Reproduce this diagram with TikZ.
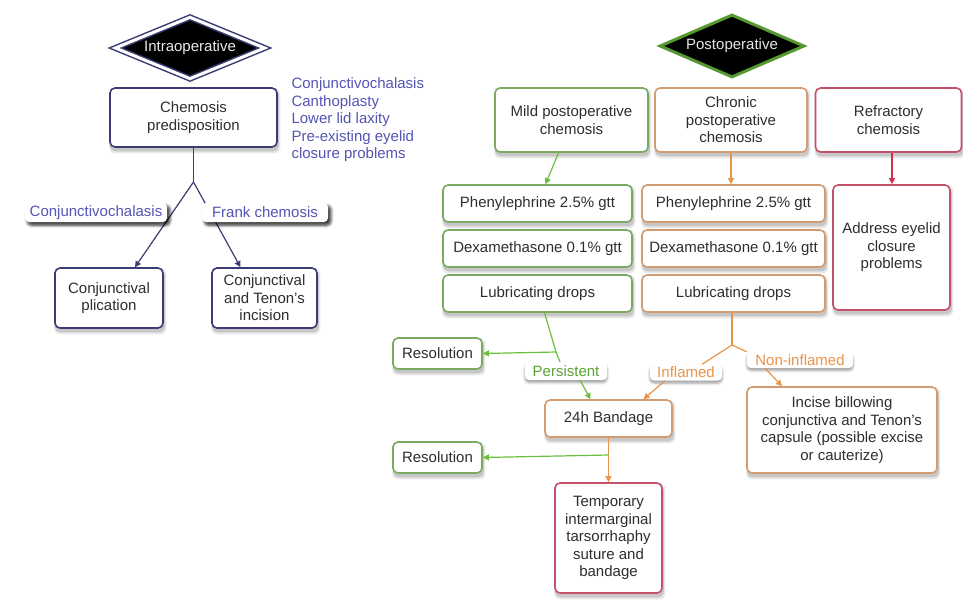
\documentclass[tikz,border=0pt]{standalone}
\usepackage{fontspec}
\setmainfont{Liberation Sans}
\usetikzlibrary{shapes.geometric,shadows.blur,arrows.meta}
\pgfdeclarelayer{bg}
\pgfsetlayers{bg,main}
\definecolor{navy}{HTML}{3C3C74}
\definecolor{bluetxt}{HTML}{5454B4}
\definecolor{gline}{HTML}{6CBF3C}
\definecolor{gbox}{HTML}{7AAA62}
\definecolor{oline}{HTML}{E8944A}
\definecolor{obox}{HTML}{D29C70}
\definecolor{rline}{HTML}{D6304C}
\definecolor{rbox}{HTML}{C4506A}
\definecolor{txt}{HTML}{2E2E2E}
\tikzset{
  every node/.style={font=\fontsize{15}{17.5}\selectfont},
  box/.style={draw, rounded corners=5pt, fill=white, line width=1.6pt, align=center,
    text=txt, inner sep=0pt},
  tag/.style={fill=white, rounded corners=4pt, inner sep=0pt,
    blur shadow={shadow xshift=0pt, shadow yshift=-2.5pt, shadow blur radius=2.5pt, shadow opacity=40}},
  shade1/.style={fill=black!9, rounded corners=6pt},
  shade2/.style={fill=black!22, rounded corners=5pt},
  link/.style={line width=1.2pt, -{Triangle[length=6pt,width=6pt]}},
  plain/.style={line width=1.2pt},
}
\begin{document}
\begin{tikzpicture}[x=1pt, y=-1pt]
  \useasboundingbox (0,0) rectangle (963,602);
  % intraoperative side
  \node[diamond, aspect=2.4, fill=black, draw=navy, line width=1.5pt, double=white, double distance=3pt,
    minimum width=150pt, minimum height=62pt, inner sep=0pt, text=white!92!black] (intra) at (190,48) {Intraoperative};
  \node[box, draw=navy, minimum width=167pt, minimum height=59pt] (chemo) at (193.5,117.5) {Chemosis\\predisposition};
  \node[anchor=west, align=left, text=bluetxt] (risks) at (288,120) {Conjunctivochalasis\\Canthoplasty\\Lower lid laxity\\Pre-existing eyelid\\closure problems};
  \node[box, draw=navy, minimum width=108pt, minimum height=60pt] (plic) at (109,298) {Conjunctival\\plication};
  \node[box, draw=navy, minimum width=105pt, minimum height=60pt] (tenon) at (264.5,298) {Conjunctival\\and Tenon's\\incision};
  \coordinate (lj) at (193.5,182);
  \draw[navy, plain] (chemo.south) -- (lj);
  \draw[navy, link] (lj) -- ([xshift=26pt]plic.north);
  \draw[navy, link] (lj) -- ([xshift=-24pt]tenon.north);
  \node[tag, text=bluetxt, minimum width=142pt, minimum height=19pt,
    blur shadow={shadow yshift=-3pt, shadow blur radius=3pt, shadow opacity=55}] (chalLab) at (96,212.5) {Conjunctivochalasis};
  \node[tag, text=bluetxt, minimum width=126pt, minimum height=19pt,
    blur shadow={shadow yshift=-3pt, shadow blur radius=3pt, shadow opacity=55}] (frankLab) at (265,212.5) {Frank chemosis};

  % postoperative side
  \node[diamond, aspect=2.3, fill=black, draw=gline!80!black, line width=3pt,
    minimum width=145pt, minimum height=63pt, inner sep=0pt, text=white!90!black] (post) at (732,46) {Postoperative};
  \node[box, draw=gbox, minimum width=153pt, minimum height=64pt] (mild) at (571.5,120) {Mild postoperative\\chemosis};
  \node[box, draw=obox, minimum width=152pt, minimum height=64pt] (chron) at (731,120) {Chronic\\postoperative\\chemosis};
  \node[box, draw=rbox, minimum width=146pt, minimum height=64pt] (refr) at (888.5,120) {Refractory\\chemosis};

  \node[box, draw=gbox, minimum width=189pt, minimum height=37pt] (phenG) at (537.5,203.5) {Phenylephrine 2.5\% gtt};
  \node[box, draw=gbox, minimum width=189pt, minimum height=37pt] (dexG) at (537.5,248.5) {Dexamethasone 0.1\% gtt};
  \node[box, draw=gbox, minimum width=189pt, minimum height=37pt] (lubG) at (537.5,293.5) {Lubricating drops};
  \node[box, draw=obox, minimum width=183pt, minimum height=37pt] (phenO) at (733.5,203.5) {Phenylephrine 2.5\% gtt};
  \node[box, draw=obox, minimum width=183pt, minimum height=37pt] (dexO) at (733.5,248.5) {Dexamethasone 0.1\% gtt};
  \node[box, draw=obox, minimum width=183pt, minimum height=37pt] (lubO) at (733.5,293.5) {Lubricating drops};
  \node[box, draw=rbox, minimum width=117pt, minimum height=125pt] (addr) at (891.5,247.5) {Address eyelid\\closure\\problems};

  \node[box, draw=gbox, minimum width=89pt, minimum height=31pt] (res1) at (437.5,353.5) {Resolution};
  \node[tag, text=gline!85!black, minimum width=82pt, minimum height=18pt] (persist) at (566,371) {Persistent};
  \node[tag, text=oline, minimum width=72pt, minimum height=16pt] (infl) at (686,372.5) {Inflamed};
  \node[tag, text=oline, minimum width=106pt, minimum height=16pt] (noninf) at (800,360) {Non-inflamed};
  \node[box, draw=obox, minimum width=127pt, minimum height=37pt] (band) at (608.5,418.5) {24h Bandage};
  \node[box, draw=obox, minimum width=190pt, minimum height=86pt] (incise) at (842,430) {Incise billowing\\conjunctiva and Tenon's\\capsule (possible excise\\or cauterize)};
  \node[box, draw=gbox, minimum width=89pt, minimum height=31pt] (res2) at (437.5,457.5) {Resolution};
  \node[box, draw=rbox, minimum width=107pt, minimum height=110pt] (temp) at (608.5,538) {Temporary\\intermarginal\\tarsorrhaphy\\suture and\\bandage};

  % soft shadows behind the boxes
  \begin{pgfonlayer}{bg}
    \foreach \b in {chemo,plic,tenon,mild,chron,refr,phenG,dexG,lubG,phenO,dexO,lubO,addr,res1,band,incise,res2,temp} {
      \fill[shade1] ([xshift=0pt,yshift=-5.5pt]\b.south west) rectangle ([xshift=2.5pt,yshift=-1pt]\b.north east);
      \fill[shade2] ([xshift=1pt,yshift=-3.5pt]\b.south west) rectangle ([xshift=1pt,yshift=-3pt]\b.north east);
    }
  \end{pgfonlayer}

  \draw[gline, link] ([xshift=-13pt]mild.south) -- ([xshift=8pt]phenG.north);
  \draw[oline, link] (chron.south) -- (chron.south |- phenO.north);
  \draw[rline, link] ([xshift=3.5pt]refr.south) -- ([xshift=0.5pt]addr.north);

  \coordinate (gj) at (556,352);
  \draw[gline, plain] ([xshift=7pt]lubG.south) -- (gj) -- ([xshift=-6pt]persist.north);
  \draw[gline, link] (gj) -- (res1.east);
  \draw[gline, link] ([xshift=14pt]persist.south) -- ([xshift=-18pt]band.north);

  \coordinate (oj) at (732,345);
  \draw[oline, plain] (lubO.south -| oj) -- (oj);
  \draw[oline, plain] (oj) -- ([xshift=16pt]infl.north);
  \draw[oline, plain] (oj) -- (noninf.north west);
  \draw[oline, link] ([xshift=-21pt]infl.south) -- ([xshift=35pt]band.north);
  \draw[oline, link] ([xshift=-35pt]noninf.south) -- ([xshift=-60pt]incise.north);

  \coordinate (bj) at (608.5,455);
  \draw[oline, link] (band.south) -- (temp.north);
  \draw[gline, link] (bj) -- (res2.east);
\end{tikzpicture}
\end{document}
